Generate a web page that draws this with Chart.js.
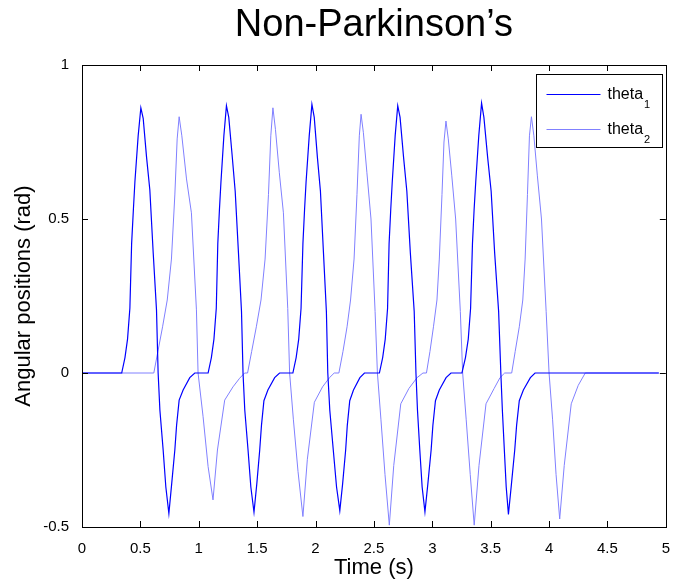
<!DOCTYPE html>
<html>
<head>
<meta charset="utf-8">
<script src="https://cdn.jsdelivr.net/npm/chart.js@4.4.1/dist/chart.umd.min.js"></script>
<style>
  html, body { margin: 0; padding: 0; background: #fff; }
  #wrap { width: 675px; height: 584px; }
</style>
</head>
<body>
<div id="wrap"><canvas id="plot" width="675" height="584"></canvas></div>
<script>
// joint angles over time (s)
const theta1Time = [
  0, 0.34, 0.368, 0.39, 0.41, 0.425, 0.44, 0.453, 0.481, 0.504, 0.524, 0.553, 0.581, 0.61, 0.638, 0.652,
  0.667, 0.695, 0.718, 0.744, 0.768, 0.795, 0.81, 0.832, 0.866, 0.923, 0.966,
  1.08, 1.108, 1.13, 1.15, 1.163, 1.177, 1.19, 1.215, 1.237, 1.257, 1.285, 1.312, 1.34, 1.366, 1.379,
  1.394, 1.422, 1.446, 1.473, 1.497, 1.522, 1.537, 1.558, 1.592, 1.65, 1.692,
  1.806, 1.834, 1.856, 1.876, 1.892, 1.906, 1.919, 1.946, 1.969, 1.989, 2.016, 2.042, 2.068, 2.093, 2.105,
  2.122, 2.152, 2.18, 2.208, 2.232, 2.258, 2.272, 2.293, 2.325, 2.38, 2.419,
  2.547, 2.575, 2.597, 2.617, 2.63, 2.644, 2.657, 2.682, 2.704, 2.724, 2.754, 2.782, 2.812, 2.845, 2.86,
  2.873, 2.893, 2.913, 2.937, 2.962, 2.99, 3.005, 3.027, 3.06, 3.118, 3.16,
  3.254, 3.284, 3.308, 3.328, 3.344, 3.358, 3.372, 3.398, 3.422, 3.442, 3.474, 3.504, 3.534, 3.568, 3.587,
  3.6, 3.617, 3.633, 3.652, 3.678, 3.706, 3.722, 3.745, 3.78, 3.84, 3.88, 4.94
];
const theta1Values = [
  0, 0, 0.05, 0.11, 0.21, 0.42, 0.53, 0.62, 0.77, 0.861, 0.827, 0.70, 0.594, 0.389, 0.205, 0,
  -0.12, -0.25, -0.37, -0.456, -0.36, -0.25, -0.17, -0.088, -0.055, -0.015, 0,
  0, 0.05, 0.11, 0.21, 0.42, 0.53, 0.62, 0.77, 0.868, 0.83, 0.71, 0.59, 0.39, 0.2, 0,
  -0.12, -0.25, -0.37, -0.452, -0.36, -0.25, -0.17, -0.09, -0.055, -0.015, 0,
  0, 0.05, 0.11, 0.21, 0.42, 0.53, 0.62, 0.77, 0.872, 0.83, 0.70, 0.59, 0.39, 0.2, 0,
  -0.12, -0.25, -0.37, -0.447, -0.36, -0.25, -0.17, -0.09, -0.055, -0.015, 0,
  0, 0.05, 0.11, 0.21, 0.42, 0.53, 0.62, 0.77, 0.868, 0.83, 0.70, 0.59, 0.39, 0.2, 0,
  -0.12, -0.25, -0.37, -0.451, -0.36, -0.25, -0.17, -0.09, -0.055, -0.015, 0,
  0, 0.05, 0.11, 0.21, 0.42, 0.53, 0.62, 0.77, 0.876, 0.83, 0.70, 0.59, 0.39, 0.2, 0,
  -0.12, -0.25, -0.37, -0.459, -0.36, -0.25, -0.17, -0.09, -0.055, -0.015, 0, 0
];
const theta2Time = [
  0, 0.615, 0.65, 0.69, 0.73, 0.766, 0.795, 0.815, 0.832, 0.855, 0.895, 0.937, 0.98, 0.994,
  1.037, 1.08, 1.122, 1.16, 1.222, 1.293, 1.35, 1.393,
  1.418, 1.453, 1.493, 1.533, 1.568, 1.597, 1.617, 1.635, 1.657, 1.69, 1.725, 1.762, 1.778,
  1.81, 1.85, 1.892, 1.93, 1.99, 2.06, 2.12, 2.16,
  2.2, 2.235, 2.27, 2.3, 2.33, 2.355, 2.375, 2.39, 2.41, 2.44, 2.475, 2.51, 2.53,
  2.56, 2.595, 2.632, 2.67, 2.73, 2.8, 2.87, 2.92,
  2.95, 2.98, 3.01, 3.04, 3.06, 3.083, 3.1, 3.117, 3.137, 3.167, 3.2, 3.24, 3.26,
  3.29, 3.325, 3.359, 3.4, 3.46, 3.53, 3.58, 3.62,
  3.68, 3.71, 3.745, 3.775, 3.795, 3.815, 3.832, 3.849, 3.87, 3.9, 3.935, 3.975, 4.0,
  4.03, 4.06, 4.091, 4.13, 4.19, 4.25, 4.31, 4.94
];
const theta2Values = [
  0, 0, 0.07, 0.15, 0.237, 0.37, 0.578, 0.76, 0.832, 0.77, 0.63, 0.52, 0.205, 0,
  -0.142, -0.304, -0.412, -0.25, -0.088, -0.045, -0.017, 0,
  0, 0.07, 0.15, 0.237, 0.37, 0.58, 0.77, 0.861, 0.79, 0.65, 0.52, 0.21, 0,
  -0.15, -0.32, -0.466, -0.28, -0.095, -0.045, -0.015, 0,
  0, 0.07, 0.15, 0.237, 0.37, 0.58, 0.77, 0.84, 0.78, 0.65, 0.5, 0.2, 0,
  -0.15, -0.33, -0.494, -0.3, -0.1, -0.05, -0.015, 0,
  0, 0.07, 0.15, 0.237, 0.37, 0.58, 0.75, 0.818, 0.76, 0.64, 0.5, 0.2, 0,
  -0.15, -0.33, -0.494, -0.3, -0.1, -0.05, -0.015, 0,
  0, 0.07, 0.15, 0.237, 0.37, 0.58, 0.77, 0.832, 0.77, 0.64, 0.5, 0.2, 0,
  -0.15, -0.33, -0.474, -0.3, -0.1, -0.04, 0, 0
];
const seriesNames = ["theta_1", "theta_2"];
const xTicks = [0, 0.5, 1, 1.5, 2, 2.5, 3, 3.5, 4, 4.5, 5];
const yTicks = [-0.5, 0, 0.5, 1];

const FONT = "'Liberation Sans', Arial, Helvetica, sans-serif";

function toPoints(xs, ys) {
  return xs.map((x, i) => ({ x: x, y: ys[i] }));
}

// box, inward ticks on all four sides, legend with subscripts
const matlabAxes = {
  id: "matlabAxes",
  afterDraw(chart) {
    const ctx = chart.ctx;
    const a = chart.chartArea;
    const xs = chart.scales.x, ys = chart.scales.y;
    const tl = 6;
    ctx.save();
    ctx.strokeStyle = "#000";
    ctx.lineWidth = 1;
    ctx.beginPath();
    xTicks.forEach(v => {
      const px = Math.round(xs.getPixelForValue(v)) + 0.5;
      ctx.moveTo(px, a.bottom); ctx.lineTo(px, a.bottom - tl);
      ctx.moveTo(px, a.top); ctx.lineTo(px, a.top + tl);
    });
    yTicks.forEach(v => {
      const py = Math.round(ys.getPixelForValue(v)) + 0.5;
      ctx.moveTo(a.left, py); ctx.lineTo(a.left + tl, py);
      ctx.moveTo(a.right, py); ctx.lineTo(a.right - tl, py);
    });
    ctx.stroke();
    ctx.strokeRect(Math.round(a.left) + 0.5, Math.round(a.top) + 0.5,
      Math.round(a.right - a.left), Math.round(a.bottom - a.top));

    // legend
    const bw = 126, bh = 73;
    const bx = Math.round(a.right - 4 - bw) + 0.5, by = Math.round(a.top + 9) + 0.5;
    ctx.fillStyle = "#fff";
    ctx.fillRect(bx, by, bw, bh);
    ctx.strokeRect(bx, by, bw, bh);
    chart.data.datasets.forEach((ds, i) => {
      const rowY = Math.round(by + 19 + i * 35) + 0.5;
      ctx.strokeStyle = ds.borderColor;
      ctx.lineWidth = 1;
      ctx.beginPath();
      ctx.moveTo(bx + 10, rowY); ctx.lineTo(bx + 64, rowY);
      ctx.stroke();
      const parts = ds.label.split("_");
      ctx.fillStyle = "#000";
      ctx.textAlign = "left";
      ctx.textBaseline = "alphabetic";
      ctx.font = "16px " + FONT;
      ctx.fillText(parts[0], bx + 71, rowY + 4.5);
      const w = ctx.measureText(parts[0]).width;
      ctx.font = "11px " + FONT;
      ctx.fillText(parts[1], bx + 71 + w + 1, rowY + 13);
    });
    ctx.restore();
  }
};

new Chart(document.getElementById("plot"), {
  type: "line",
  data: {
    datasets: [
      {
        label: seriesNames[0],
        data: toPoints(theta1Time, theta1Values),
        borderColor: "#0000ff",
        borderWidth: 1.2
      },
      {
        label: seriesNames[1],
        data: toPoints(theta2Time, theta2Values),
        borderColor: "#8080ff",
        borderWidth: 1
      }
    ]
  },
  options: {
    responsive: false,
    animation: false,
    events: [],
    elements: { point: { radius: 0 }, line: { tension: 0 } },
    layout: { padding: { left: 0, right: 8, top: 0, bottom: 0 } },
    plugins: {
      legend: { display: false },
      tooltip: { enabled: false },
      title: {
        display: true,
        fullSize: false,
        text: "Non-Parkinson\u2019s",
        color: "#000",
        font: { family: FONT, size: 38, weight: "normal", lineHeight: 1.2 },
        padding: { top: 3, bottom: 16.4 }
      }
    },
    scales: {
      x: {
        type: "linear",
        min: 0,
        max: 5,
        afterBuildTicks: s => { s.ticks = xTicks.map(v => ({ value: v })); },
        afterFit: s => { s.height = 57; },
        grid: { display: false },
        border: { display: false },
        ticks: {
          color: "#000",
          padding: 5,
          maxRotation: 0,
          autoSkip: false,
          callback: v => String(v),
          font: { family: FONT, size: 15 }
        },
        title: {
          display: true,
          text: "Time (s)",
          color: "#000",
          font: { family: FONT, size: 22 },
          padding: { top: 0, bottom: 3 }
        }
      },
      y: {
        type: "linear",
        min: -0.5,
        max: 1,
        afterBuildTicks: s => { s.ticks = yTicks.map(v => ({ value: v })); },
        afterFit: s => { s.width = 82; },
        grid: { display: false },
        border: { display: false },
        ticks: {
          color: "#000",
          padding: 5,
          callback: v => String(v),
          font: { family: FONT, size: 15 }
        },
        title: {
          display: true,
          text: "Angular positions (rad)",
          color: "#000",
          font: { family: FONT, size: 22 },
          padding: { top: 11, bottom: 0 }
        }
      }
    }
  },
  plugins: [matlabAxes]
});
</script>
</body>
</html>
